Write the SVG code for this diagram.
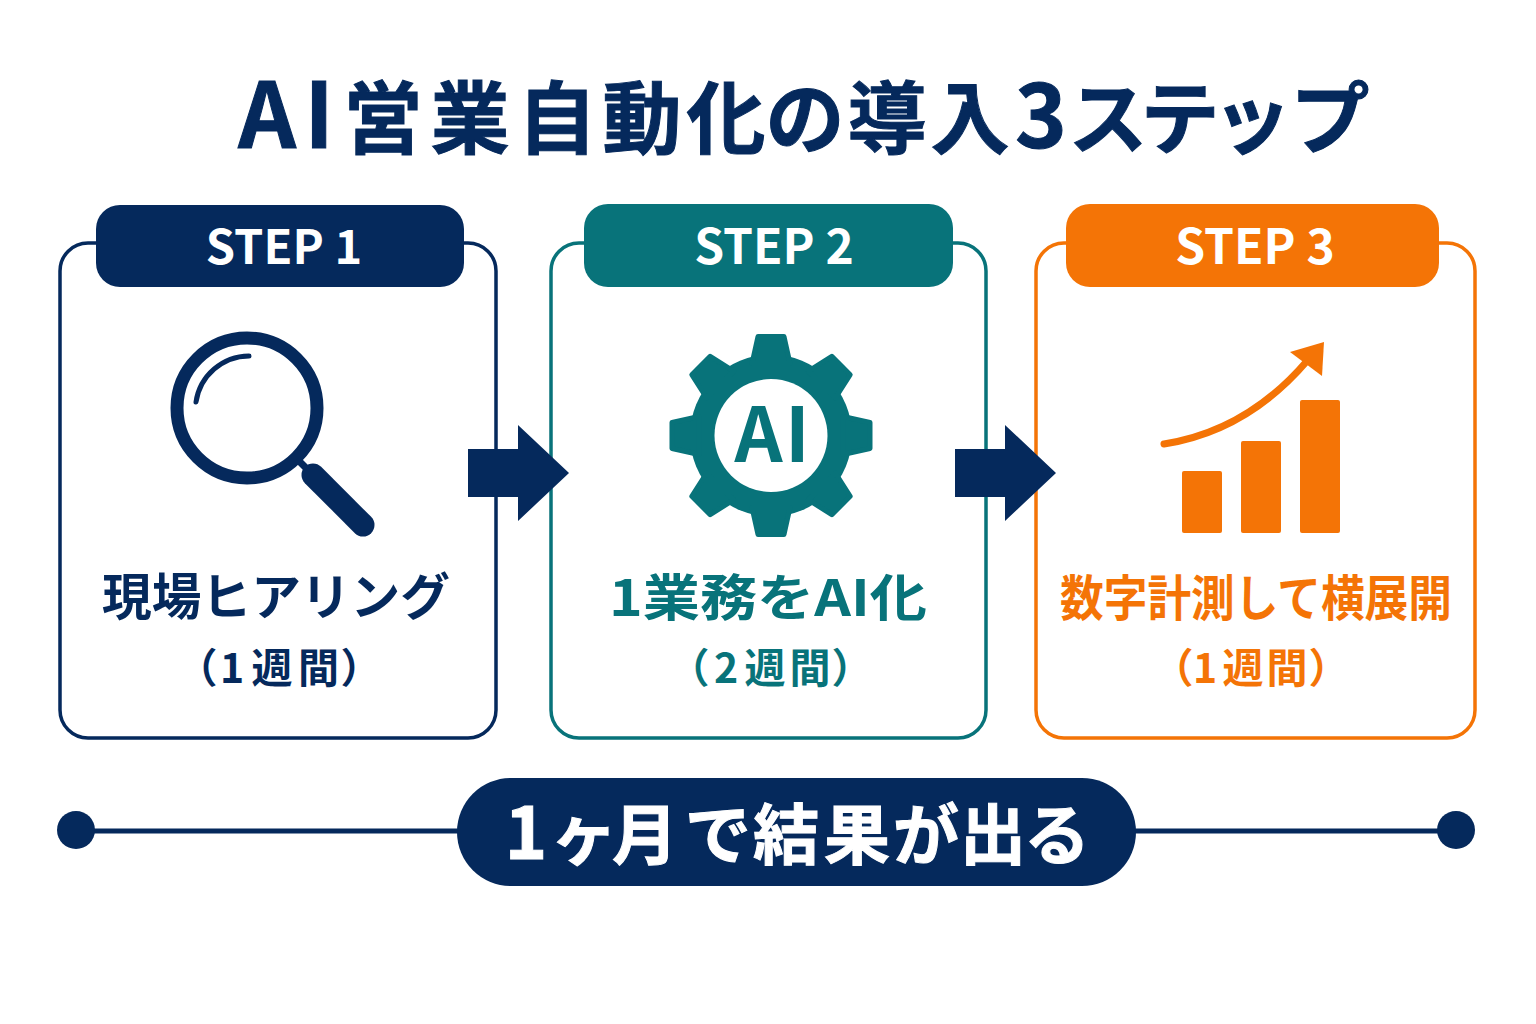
<svg xmlns="http://www.w3.org/2000/svg" xmlns:xlink="http://www.w3.org/1999/xlink" width="1536" height="1024" viewBox="0 0 1536 1024">
<style>
text{font-family:"Noto Sans CJK JP","Noto Sans",sans-serif;font-weight:700;text-anchor:middle}
.card{fill:#fff;stroke-width:3.5}
.navy{fill:#05295c}.teal{fill:#08737a}.org{fill:#f47406}
.w{fill:#fff}
.tooth{fill:#08737a;stroke:#08737a;stroke-width:5;stroke-linejoin:round}
.period{font-size:41px}
</style>
<defs><polygon id="tooth" class="tooth" points="-19,-72 -13,-99 13,-99 19,-72"/></defs>
<rect width="1536" height="1024" fill="#fff"/>
<text id="title" class="navy" y="148" font-size="79" stroke="#05295c" stroke-width="1"><tspan font-size="90" x="267 319">AI</tspan><tspan x="383 470 557 642 726 805 887 970">営業自動化の導入</tspan><tspan font-size="88" x="1041">3</tspan><tspan x="1108 1180 1252 1330">ステップ</tspan></text>
<g id="step1">
<rect class="card" x="60" y="243" width="436" height="495" rx="28" stroke="#05295c"/>
<rect class="navy" x="96" y="205" width="368" height="82" rx="24"/>
<text class="w" x="284" y="264" font-size="47">STEP 1</text>
<circle cx="247" cy="408" r="70" fill="none" stroke="#05295c" stroke-width="13"/>
<path d="M196 402A54 54 0 0 1 249 356" fill="none" stroke="#05295c" stroke-width="5" stroke-linecap="round"/>
<line x1="297" y1="459" x2="311" y2="473" stroke="#05295c" stroke-width="7"/>
<line x1="313" y1="475" x2="363" y2="525" stroke="#05295c" stroke-width="23" stroke-linecap="round"/>
<text class="navy" x="276" y="615" font-size="50" textLength="348" lengthAdjust="spacingAndGlyphs">現場ヒアリング</text>
<text class="navy period" y="683" x="197 232 272 318.5 361">（1週間）</text>
</g>
<g id="step2">
<rect class="card" x="551" y="243" width="435" height="495" rx="28" stroke="#08737a"/>
<rect class="teal" x="584" y="204" width="369" height="83" rx="24"/>
<text class="w" x="774" y="264" font-size="48">STEP 2</text>
<g transform="translate(771 435.5)">
<circle class="teal" r="81"/>
<use href="#tooth"/><use href="#tooth" transform="rotate(45)"/><use href="#tooth" transform="rotate(90)"/><use href="#tooth" transform="rotate(135)"/><use href="#tooth" transform="rotate(180)"/><use href="#tooth" transform="rotate(225)"/><use href="#tooth" transform="rotate(270)"/><use href="#tooth" transform="rotate(315)"/>
<circle class="w" r="56.5"/>
</g>
<text class="teal" y="462" font-size="75" x="758.5 797.5">AI</text>
<text class="teal" x="768" y="616" font-size="50" textLength="318" lengthAdjust="spacingAndGlyphs">1業務をAI化</text>
<text class="teal period" y="683" x="689 726 765 810 852">（2週間）</text>
</g>
<g id="step3">
<rect class="card" x="1036" y="243" width="439" height="495" rx="28" stroke="#f47406"/>
<rect class="org" x="1066" y="204" width="373" height="83" rx="24"/>
<text class="w" x="1255" y="264" font-size="48">STEP 3</text>
<rect class="org" x="1182" y="471" width="40" height="62" rx="2"/>
<rect class="org" x="1241" y="441" width="40" height="92" rx="2"/>
<rect class="org" x="1300" y="400" width="40" height="133" rx="2"/>
<path d="M1164 444C1215 436 1265 410 1307 361" fill="none" stroke="#f47406" stroke-width="7" stroke-linecap="round"/>
<polygon class="org" points="1324,342 1322,376 1290,352"/>
<text class="org" x="1256" y="616" font-size="49" textLength="392" lengthAdjust="spacingAndGlyphs">数字計測して横展開</text>
<text class="org period" y="683" x="1173 1205 1243 1287 1329">（1週間）</text>
</g>
<g id="connectors">
<polygon class="navy" points="468,449 518,449 518,425 569,473 518,521 518,497 468,497"/>
<polygon class="navy" points="955,449 1005,449 1005,425 1056,473 1005,521 1005,497 955,497"/>
<line x1="76" y1="831" x2="470" y2="831" stroke="#05295c" stroke-width="5"/>
<line x1="1125" y1="831" x2="1456" y2="831" stroke="#05295c" stroke-width="5"/>
<circle class="navy" cx="76" cy="830" r="19"/>
<circle class="navy" cx="1456" cy="830" r="19"/>
</g>
<g id="result">
<rect class="navy" x="457" y="778" width="679" height="108" rx="54"/>
<text class="w" y="859" font-size="66" stroke="#fff" stroke-width="1"><tspan font-size="72" x="526">1</tspan><tspan x="584 645 718 786 857 926 993 1057">ヶ月で結果が出る</tspan></text>
</g>
</svg>
